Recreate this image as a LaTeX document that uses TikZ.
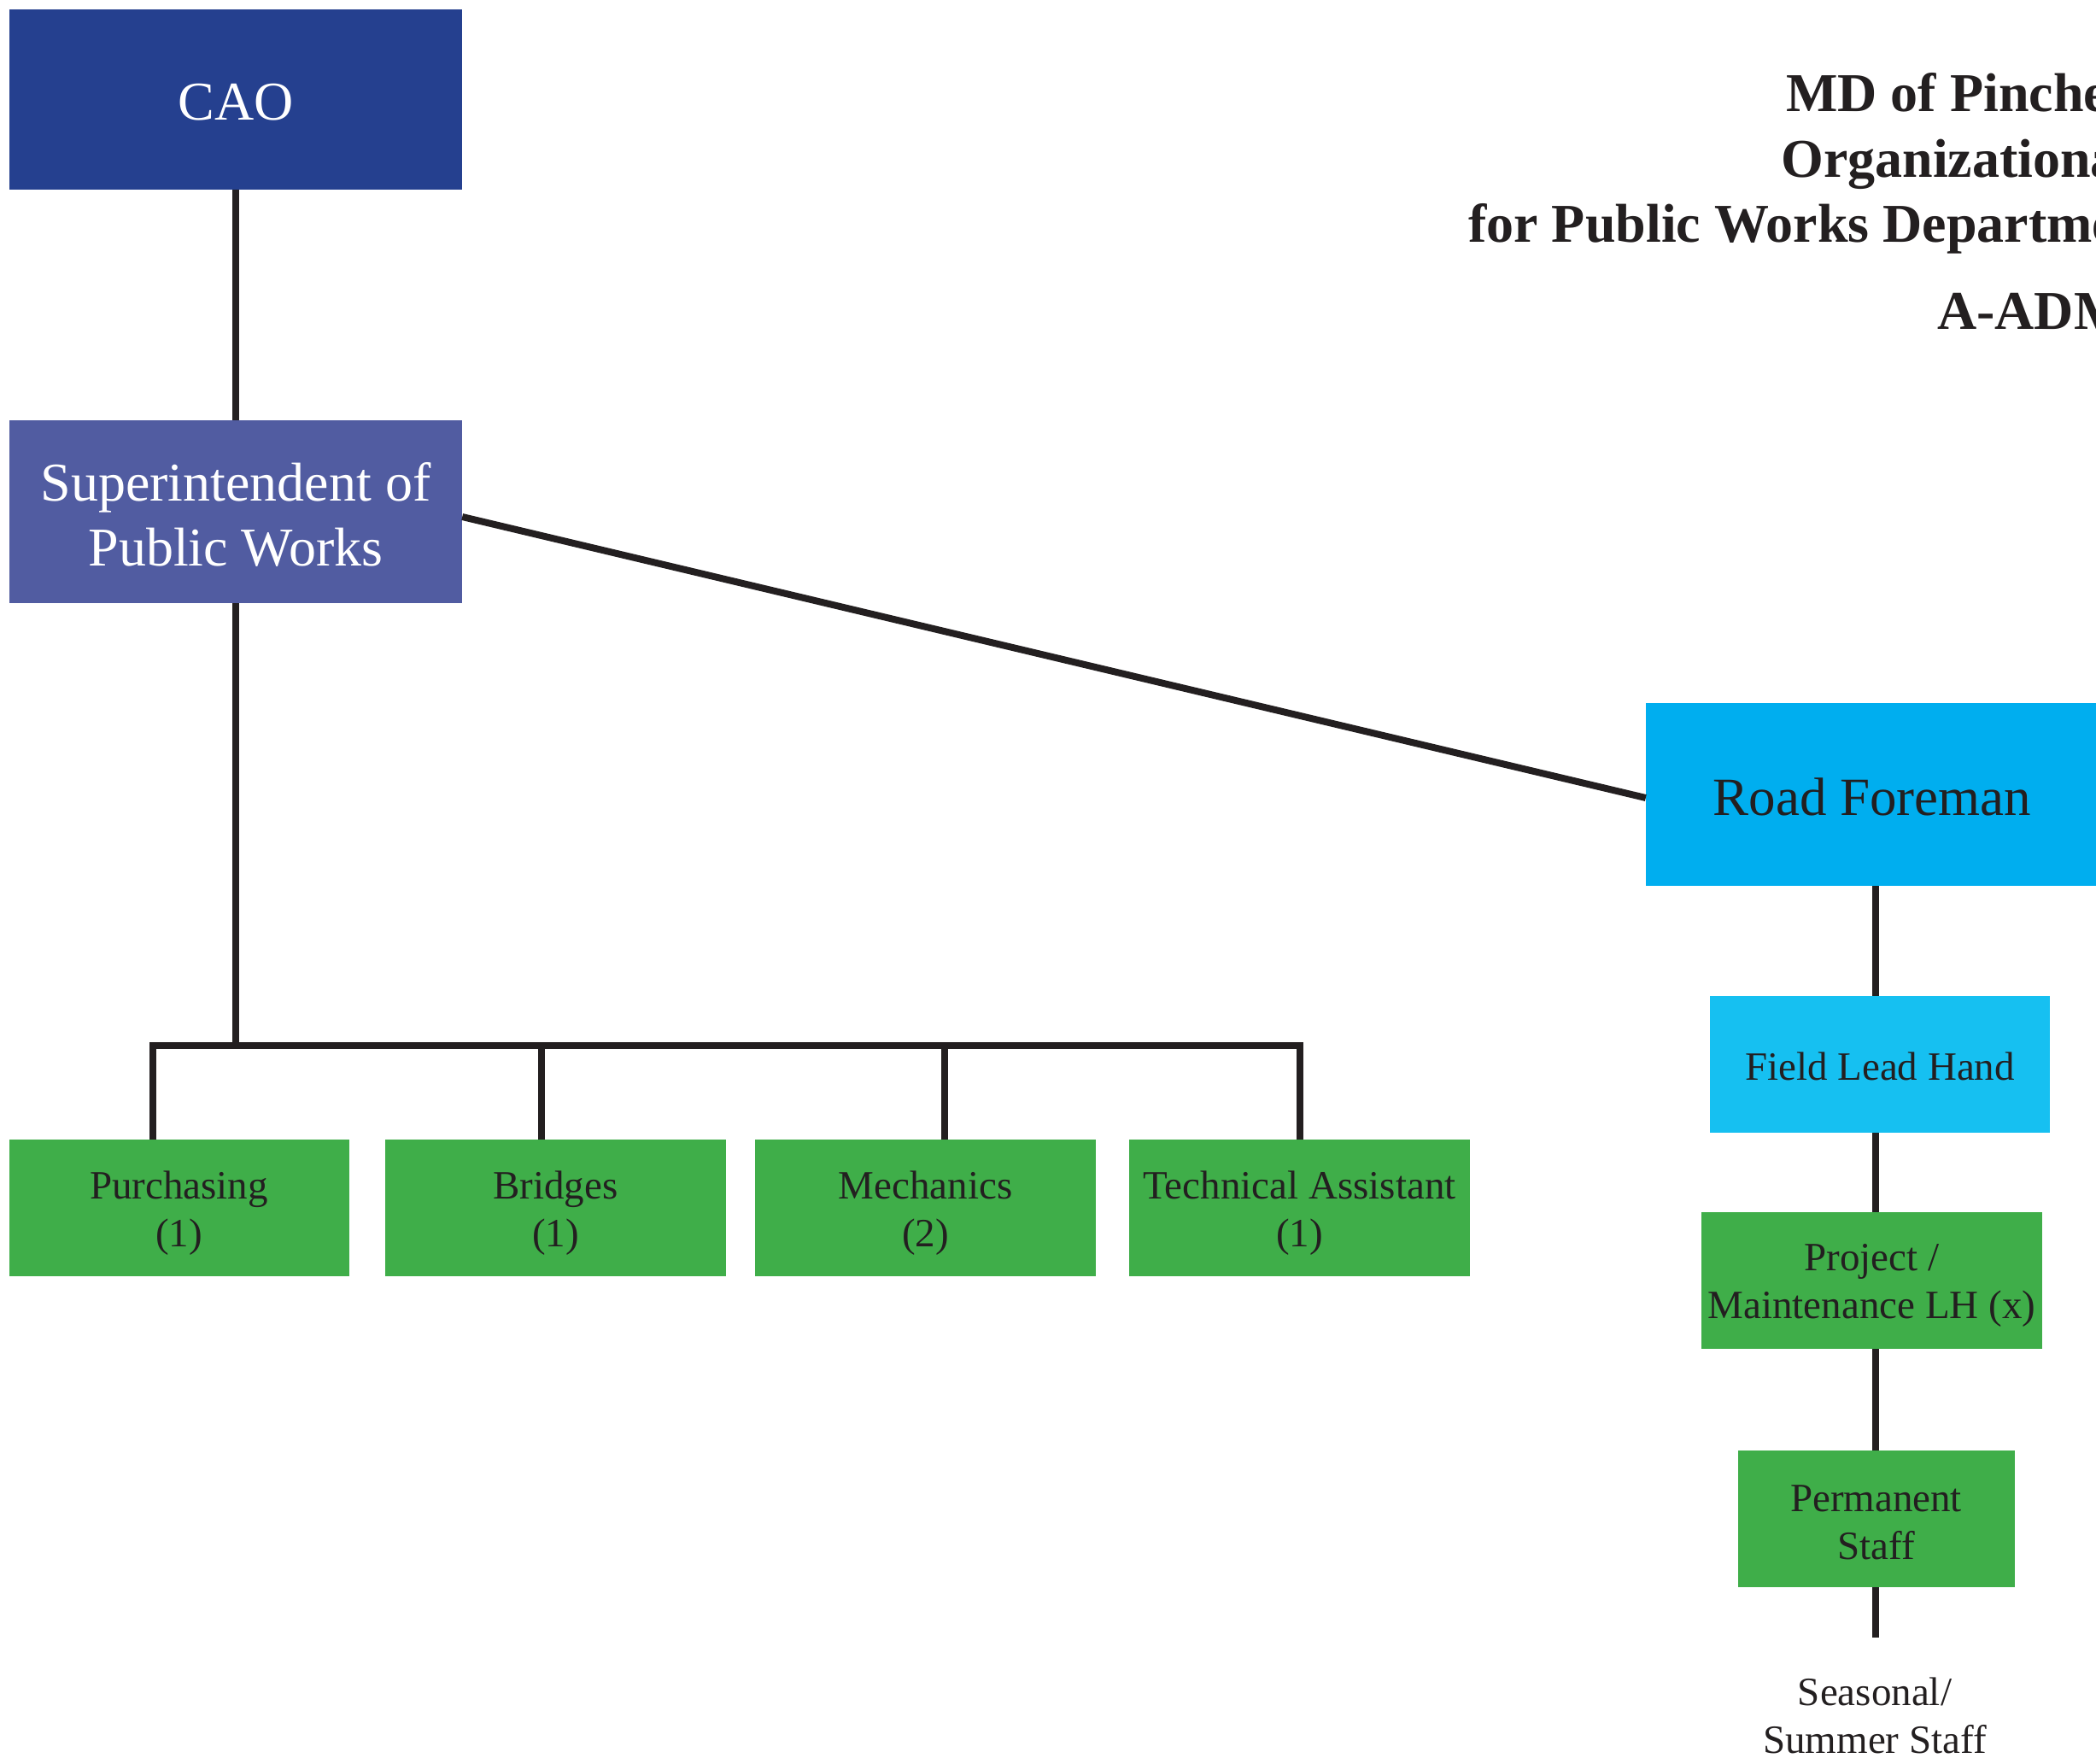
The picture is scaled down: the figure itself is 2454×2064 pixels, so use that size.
\documentclass[tikz,border=0pt]{standalone}
\usepackage{fontspec}
\setmainfont{Liberation Serif}
\usetikzlibrary{calc}
\definecolor{caoblue}{HTML}{25408F}
\definecolor{supblue}{HTML}{515CA1}
\definecolor{rfcyan}{HTML}{00AEEF}
\definecolor{flcyan}{HTML}{16C0F1}
\definecolor{staffgreen}{HTML}{3FAE49}
\definecolor{ink}{HTML}{231F20}
\begin{document}
\begin{tikzpicture}[x=1pt,y=-1pt,
  box/.style={rectangle, inner sep=0pt, align=center, draw=none},
  bigbox/.style={box, minimum width=530pt},
  bigtxt/.style={align=center, inner sep=0pt, font=\fontsize{64}{76}\selectfont},
  smalltxt/.style={align=center, inner sep=0pt, text=ink, font=\fontsize{47}{56}\selectfont},
  smallbox/.style={box, fill=staffgreen},
  ttl/.style={anchor=base west, inner sep=0pt, text=ink, font=\bfseries\fontsize{64}{64}\selectfont},
  conn/.style={draw=ink, line width=8pt}]
\useasboundingbox (0,0) rectangle (2454,2064);
\clip (0,0) rectangle (2454,2064);

% title
\node[ttl] (t1) at (2091,130) {MD of Pincher Creek};
\node[ttl] (t2) at (2085,207) {Organizational Chart};
\node[ttl] (t3) at (1719,283) {for Public Works Department};
\node[ttl] (t4) at (2268,385) {A-ADM};

% top boxes
\node[bigbox, fill=caoblue, minimum height=211pt,
  label={[bigtxt, text=white, yshift=-3pt]center:CAO}] (cao) at (276,116.5) {};
\node[bigbox, fill=supblue, minimum height=214pt,
  label={[bigtxt, text=white, yshift=-3pt]center:{Superintendent of\\Public Works}}] (sup) at (276,599) {};
\node[bigbox, fill=rfcyan, minimum height=214pt,
  label={[bigtxt, text=ink, font=\fontsize{63}{76}\selectfont, yshift=-3pt]center:Road Foreman}] (rf) at (2192,930) {};

% left row
\node[smallbox, minimum width=398pt, minimum height=160pt,
  label={[smalltxt, yshift=-6pt]center:{Purchasing\\(1)}}] (pur) at (209.5,1414) {};
\node[smallbox, minimum width=399pt, minimum height=160pt,
  label={[smalltxt, yshift=-6pt]center:{Bridges\\(1)}}] (bri) at (650.5,1414) {};
\node[smallbox, minimum width=399pt, minimum height=160pt,
  label={[smalltxt, yshift=-6pt]center:{Mechanics\\(2)}}] (mec) at (1083.5,1414) {};
\node[smallbox, minimum width=399pt, minimum height=160pt,
  label={[smalltxt, yshift=-6pt]center:{Technical Assistant\\(1)}}] (tec) at (1521.5,1414) {};

% right column
\node[box, fill=flcyan, minimum width=398pt, minimum height=160pt,
  label={[smalltxt, yshift=-2pt]center:Field Lead Hand}] (flh) at (2201,1246) {};
\node[smallbox, minimum width=399pt, minimum height=160pt,
  label={[smalltxt, yshift=-6pt]center:{Project /\\Maintenance LH (x)}}] (pm) at (2191.5,1499) {};
\node[smallbox, minimum width=324pt, minimum height=160pt,
  label={[smalltxt, yshift=-4pt]center:{Permanent\\Staff}}] (perm) at (2196.5,1778) {};
\node[smalltxt, anchor=north] (seas) at (2195,1964) {Seasonal/\\Summer Staff};

% coordinates
\coordinate (bus) at (0,1224);
\coordinate (d1) at (179,0);
\coordinate (d2) at (634,0);
\coordinate (d3) at (1106,0);
\coordinate (d4) at (1522,0);
\coordinate (vx) at (2196,0);
\coordinate (send) at (2196,1917);

% connectors
\draw[conn] (cao.south) -- (sup.north);
\draw[conn] (sup.south) -- (sup.south |- bus);
\draw[conn] (pur.north -| d1) -- (d1 |- bus) -- (d4 |- bus) -- (tec.north -| d4);
\draw[conn] (d2 |- bus) -- (bri.north -| d2);
\draw[conn] (d3 |- bus) -- (mec.north -| d3);
\draw[conn] ($(sup.east)+(0,6)$) -- ($(rf.west)+(0,4)$);
\draw[conn] (rf.south -| vx) -- (flh.north -| vx);
\draw[conn] (flh.south -| vx) -- (pm.north -| vx);
\draw[conn] (pm.south -| vx) -- (perm.north -| vx);
\draw[conn] (perm.south -| vx) -- (send);
\end{tikzpicture}
\end{document}
